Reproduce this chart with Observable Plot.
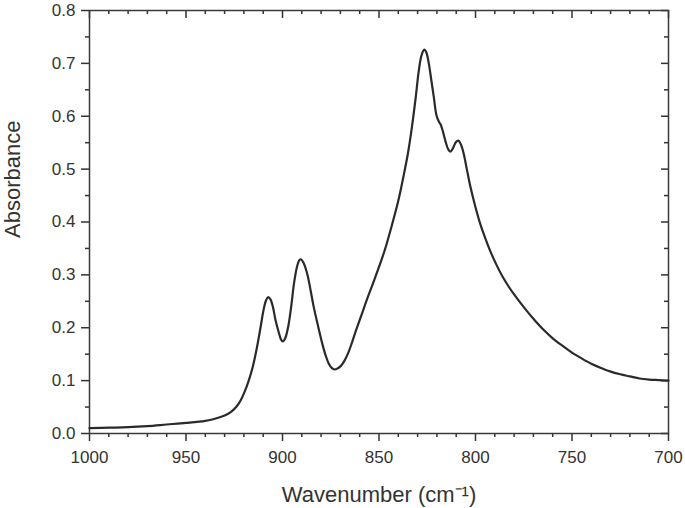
<!DOCTYPE html>
<html><head><meta charset="utf-8">
<script src="https://cdn.jsdelivr.net/npm/d3@7"></script>
<script src="https://cdn.jsdelivr.net/npm/@observablehq/plot@0.6"></script>
<style>body{margin:0;background:#fff} #chart svg{display:block}</style>
</head><body><div id="chart"></div>
<script>
const wavenumber = [1000,990,980,970,960,950,940,935,930,927,924,921.5,919.5,917.5,915.5,913.5,911.5,909.8,908.5,907.4,906.3,905,903.6,902,900.8,899.8,898.6,897,895.5,894,892.5,891.2,890.3,889,887.2,885.5,883.8,881.5,879.4,877.5,876,874.5,873,871.5,870,868,866,864,862,859,856,853,850,847,844,840,837,835,833,831,829.5,828.2,827.2,826.4,825.5,824.2,823,821.6,820.3,819,818,816.8,815.5,814.2,813,811.5,810.2,808.8,807.5,806.1,804.5,802.6,800,797.5,795,792,789,786,783,780,775,770,765,760,755,750,745,740,735,730,725,720,715,710,705,700];
const absorbance = [0.010,0.011,0.012,0.014,0.017,0.020,0.024,0.028,0.034,0.040,0.050,0.064,0.080,0.100,0.125,0.158,0.198,0.234,0.252,0.258,0.254,0.240,0.214,0.192,0.178,0.174,0.180,0.203,0.240,0.285,0.315,0.328,0.329,0.322,0.302,0.272,0.239,0.202,0.170,0.146,0.132,0.124,0.121,0.123,0.127,0.137,0.152,0.172,0.194,0.225,0.256,0.285,0.315,0.347,0.385,0.440,0.492,0.530,0.578,0.635,0.683,0.712,0.723,0.726,0.721,0.700,0.671,0.636,0.603,0.590,0.584,0.570,0.552,0.538,0.533,0.541,0.551,0.554,0.546,0.529,0.500,0.466,0.428,0.396,0.370,0.342,0.318,0.297,0.279,0.263,0.239,0.217,0.197,0.180,0.166,0.153,0.142,0.132,0.124,0.117,0.112,0.108,0.104,0.102,0.101,0.100];
const xMajorTicks = [1000,950,900,850,800,750,700];
const xMinorTicks = [990,980,970,960,940,930,920,910,890,880,870,860,840,830,820,810,790,780,770,760,740,730,720,710];
const yMajorTicks = [0,0.1,0.2,0.3,0.4,0.5,0.6,0.7,0.8];
const yMinorTicks = [0.05,0.15,0.25,0.35,0.45,0.55,0.65,0.75];
const yTitle = "Absorbance";
const xTitle = "Wavenumber (cm⁻¹)";

const table = wavenumber.map((w, i) => ({w, a: absorbance[i]}));
const ink = "#333";
const plot = Plot.plot({
  width: 685, height: 508,
  marginLeft: 89, marginRight: 17, marginTop: 10, marginBottom: 75,
  x: {domain: [1000, 700]},
  y: {domain: [0, 0.8]},
  style: {fontFamily: "'Liberation Sans', Arial, sans-serif", color: ink, background: "#fff"},
  marks: [
    Plot.axisX(xMajorTicks, {anchor: "bottom", tickSize: 8, tickPadding: 9, fontSize: 17, label: null, stroke: ink, strokeWidth: 1.5, tickFormat: d => String(d)}),
    Plot.axisX(xMinorTicks, {anchor: "bottom", tickSize: 4, label: null, stroke: ink, strokeWidth: 1.5, tickFormat: () => ""}),
    Plot.axisY(yMajorTicks, {anchor: "left", tickSize: 8, tickPadding: 6, fontSize: 17, label: null, stroke: ink, strokeWidth: 1.5, tickFormat: d3.format(".1f")}),
    Plot.axisY(yMinorTicks, {anchor: "left", tickSize: 4, label: null, stroke: ink, strokeWidth: 1.5, tickFormat: () => ""}),
    Plot.tickX(xMajorTicks, {x: d => d, insetBottom: 423 - 8, stroke: ink, strokeWidth: 1.5}),
    Plot.tickX(xMinorTicks, {x: d => d, insetBottom: 423 - 4, stroke: ink, strokeWidth: 1.5}),
    Plot.tickY(yMajorTicks, {y: d => d, insetLeft: 579 - 7, stroke: ink, strokeWidth: 1.5}),
    Plot.tickY(yMinorTicks, {y: d => d, insetLeft: 579 - 4, stroke: ink, strokeWidth: 1.5}),
    Plot.frame({stroke: "#3a3a3a", strokeWidth: 1.5}),
    Plot.line(table, {x: "w", y: "a", stroke: "#2a2a2a", strokeWidth: 2.2, curve: "catmull-rom"}),
    Plot.text([yTitle], {frameAnchor: "left", rotate: -90, dx: -77, dy: 16, fontSize: 22, fill: ink}),
    Plot.text([xTitle], {frameAnchor: "bottom", dy: 61, fontSize: 22, lineAnchor: "middle", fill: ink})
  ]
});
document.getElementById("chart").appendChild(plot);
</script>
</body></html>
